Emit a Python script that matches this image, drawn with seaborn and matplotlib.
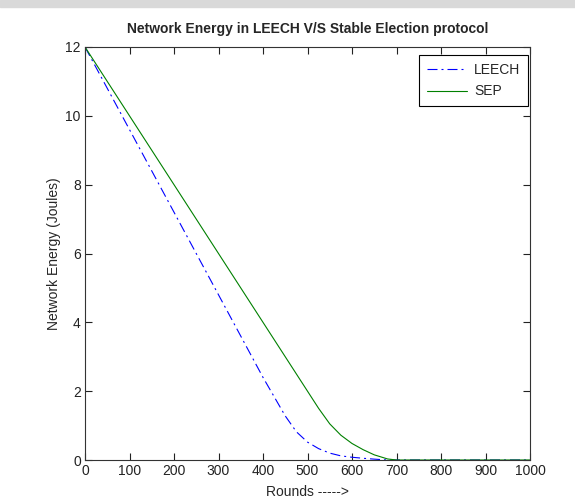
import matplotlib
matplotlib.use('Agg')
import matplotlib.pyplot as plt
from matplotlib.patches import Rectangle
import seaborn as sns
import pandas as pd

rounds = [0, 100, 200, 300, 400, 450, 475, 500, 525, 550, 575, 600, 625, 650, 680, 700, 800, 900, 1000]
leech = [12, 9.6, 7.2, 4.8, 2.4, 1.28, 0.82, 0.52, 0.33, 0.2, 0.12, 0.08, 0.05, 0.025, 0, 0, 0, 0, 0]
sep = [12, 10, 8, 6, 4, 3.0, 2.5, 2.0, 1.5, 1.05, 0.72, 0.48, 0.3, 0.15, 0.03, 0, 0, 0, 0]
x_ticks = list(range(0, 1001, 100))
y_ticks = [0, 2, 4, 6, 8, 10, 12]

df = pd.DataFrame({'Rounds': rounds, 'LEECH': leech, 'SEP': sep})

sns.set_style('ticks')
plt.rcParams['font.family'] = ['Liberation Sans', 'DejaVu Sans']

fig = plt.figure(figsize=(5.75, 5.01), dpi=100)
# grey strip at the top of the screenshot
fig.patches.append(Rectangle((0, 494 / 501), 1, 7 / 501, transform=fig.transFigure,
                             color='#d9d9d9', zorder=0))

ax = fig.add_axes([85 / 575, 41 / 501, 445 / 575, 413 / 501])

sns.lineplot(data=df, x='Rounds', y='LEECH', ax=ax, color='#0000ff',
             linestyle=(0, (9, 3.6, 1.8, 3.6)), linewidth=0.8, label='LEECH')
sns.lineplot(data=df, x='Rounds', y='SEP', ax=ax, color='#008000',
             linewidth=0.8, label='SEP')

ax.set_xlim(0, 1000)
ax.set_ylim(0, 12)
ax.set_xticks(x_ticks)
ax.set_yticks(y_ticks)
ax.tick_params(direction='in', length=5, width=0.8, top=True, right=True,
               labelsize=10, colors='#222222', pad=3)
for s in ax.spines.values():
    s.set_color('#333333')
    s.set_linewidth(0.8)

ax.set_title('Network Energy in LEECH V/S Stable Election protocol',
             fontsize=10, fontweight='bold', pad=10)
ax.set_xlabel('Rounds ----->', fontsize=10, labelpad=5)
ax.set_ylabel('Network Energy (Joules)', fontsize=10, labelpad=3)

leg = ax.legend(loc='upper right', bbox_to_anchor=(0.9955, 0.9806),
                fontsize=10, handlelength=2.9, fancybox=False, framealpha=1,
                edgecolor='black', borderaxespad=0, borderpad=0.55,
                labelspacing=0.56, handletextpad=0.5)
leg.get_frame().set_linewidth(0.8)

fig.savefig('out.png', dpi=100, facecolor='white')
